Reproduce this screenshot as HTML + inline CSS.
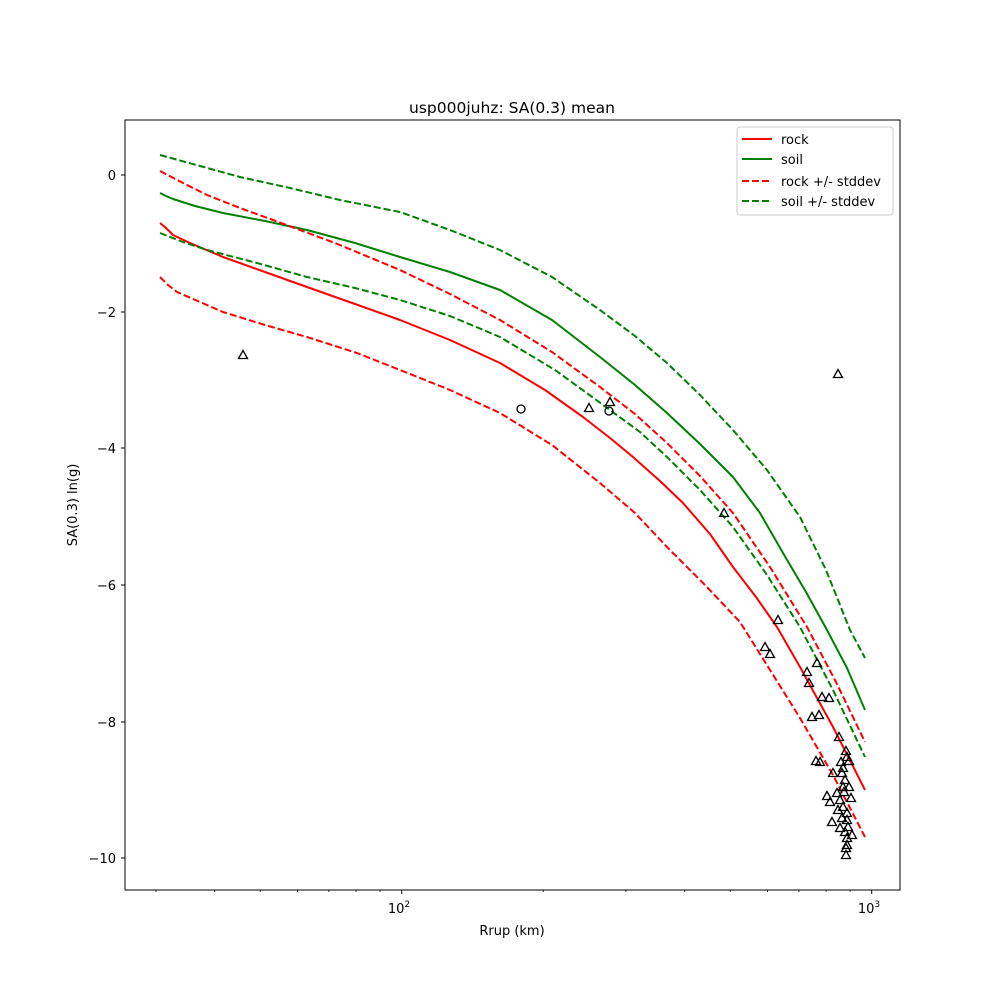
<!DOCTYPE html>
<html><head><meta charset="utf-8"><style>body{margin:0;background:#fff}svg{display:block;font-family:"DejaVu Sans","Liberation Sans",sans-serif}</style></head>
<body>
<svg width="1000" height="1000" viewBox="0 0 1000 1000">
<rect width="1000" height="1000" fill="#fff"/>
<g fill="none" stroke-width="2" stroke-linejoin="round">
<polyline stroke="#ff0000" points="160,223 166,228 173,235 190,243 223,257 265,272 307,287 355,304 400,320 450,340 500,363 545,390 583,417 610,438 633,457 660,481 683,503 710,534 733,567 756,597 777,627 800,667 833,727 865,790"/>
<polyline stroke="#008000" points="160,193 166,196 173,199 195,206 223,213 265,221 307,230 355,243 400,257 450,272 500,290 552,320 600,357 635,385 667,413 700,444 733,477 760,513 783,553 806,592 827,630 847,668 865,710"/>
<polyline stroke="#ff0000" stroke-dasharray="7,3" points="160,171 183,183 207,195 240,208 273,220 335,243 400,270 450,294 500,320 552,352 600,387 635,414 667,443 700,476 733,513 770,567 807,627 836,682 865,742"/>
<polyline stroke="#ff0000" stroke-dasharray="7,3" points="160,277 168,285 177,292 200,302 223,312 265,325 307,337 357,353 400,370 450,390 500,413 552,445 600,483 635,513 667,547 705,585 740,622 770,670 800,718 833,775 865,837"/>
<polyline stroke="#008000" stroke-dasharray="7,3" points="160,155 200,166 240,177 290,188 340,200 400,212 450,230 500,250 552,277 600,310 635,336 667,363 700,395 733,430 767,470 800,517 826,570 850,630 865,658"/>
<polyline stroke="#008000" stroke-dasharray="7,3" points="160,233 183,242 207,250 257,263 307,277 355,288 400,300 450,316 500,337 555,370 610,410 640,432 667,457 700,490 733,527 767,575 800,627 833,690 865,757"/>
</g>
<g fill="none" stroke="#000" stroke-width="1.3">
<circle cx="521" cy="409" r="4"/><circle cx="609" cy="411" r="4"/>
</g>
<defs><path id="t" d="M0,-4.5 L4.5,3.5 L-4.5,3.5 Z" fill="none" stroke="#000" stroke-width="1.3"/></defs>
<g>
<use href="#t" x="243" y="355"/><use href="#t" x="589" y="408"/><use href="#t" x="610" y="402"/><use href="#t" x="724" y="513"/>
<use href="#t" x="838" y="374"/><use href="#t" x="778" y="620"/><use href="#t" x="765" y="647"/><use href="#t" x="770" y="654"/>
<use href="#t" x="817" y="663"/><use href="#t" x="807" y="672"/><use href="#t" x="809" y="683"/><use href="#t" x="822" y="697"/>
<use href="#t" x="829" y="698"/><use href="#t" x="812" y="717"/><use href="#t" x="819" y="715"/><use href="#t" x="839" y="737"/>
<use href="#t" x="846" y="751"/><use href="#t" x="816" y="761"/><use href="#t" x="820" y="762"/><use href="#t" x="847" y="757"/>
<use href="#t" x="849" y="761"/><use href="#t" x="841" y="762"/><use href="#t" x="833" y="773"/><use href="#t" x="842" y="773"/>
<use href="#t" x="843" y="768"/><use href="#t" x="849" y="787"/><use href="#t" x="827" y="796"/><use href="#t" x="830" y="802"/>
<use href="#t" x="837" y="793"/><use href="#t" x="840" y="800"/><use href="#t" x="851" y="798"/><use href="#t" x="843" y="807"/>
<use href="#t" x="838" y="810"/><use href="#t" x="847" y="813"/><use href="#t" x="832" y="822"/><use href="#t" x="840" y="828"/>
<use href="#t" x="848" y="827"/><use href="#t" x="852" y="835"/><use href="#t" x="847" y="838"/><use href="#t" x="847" y="845"/>
<use href="#t" x="846" y="855"/><use href="#t" x="843" y="787"/><use href="#t" x="845" y="780"/><use href="#t" x="847" y="820"/>
<use href="#t" x="844" y="792"/><use href="#t" x="842" y="818"/><use href="#t" x="845" y="832"/><use href="#t" x="846" y="848"/>
</g>
<rect x="125" y="120" width="775" height="770" fill="none" stroke="#000" stroke-width="1"/>
<g stroke="#000" stroke-width="1">
<line x1="121" y1="175" x2="125" y2="175"/><line x1="121" y1="312" x2="125" y2="312"/><line x1="121" y1="448" x2="125" y2="448"/>
<line x1="121" y1="585" x2="125" y2="585"/><line x1="121" y1="722" x2="125" y2="722"/><line x1="121" y1="858" x2="125" y2="858"/>
<line x1="401.7" y1="890" x2="401.7" y2="894"/><line x1="871.7" y1="890" x2="871.7" y2="894"/>
<g stroke-width="0.8">
<line x1="155.9" y1="890" x2="155.9" y2="892"/><line x1="214.7" y1="890" x2="214.7" y2="892"/><line x1="260.2" y1="890" x2="260.2" y2="892"/>
<line x1="297.4" y1="890" x2="297.4" y2="892"/><line x1="328.9" y1="890" x2="328.9" y2="892"/><line x1="356.1" y1="890" x2="356.1" y2="892"/>
<line x1="380.1" y1="890" x2="380.1" y2="892"/><line x1="543.2" y1="890" x2="543.2" y2="892"/><line x1="625.9" y1="890" x2="625.9" y2="892"/>
<line x1="684.7" y1="890" x2="684.7" y2="892"/><line x1="730.2" y1="890" x2="730.2" y2="892"/><line x1="767.4" y1="890" x2="767.4" y2="892"/>
<line x1="798.9" y1="890" x2="798.9" y2="892"/><line x1="826.1" y1="890" x2="826.1" y2="892"/><line x1="850.1" y1="890" x2="850.1" y2="892"/>
</g></g>
<g font-size="13" fill="#000" text-anchor="end">
<text x="116" y="180">0</text><text x="116" y="317">−2</text><text x="116" y="453">−4</text>
<text x="116" y="590">−6</text><text x="116" y="727">−8</text><text x="116" y="863">−10</text>
</g>
<g font-size="13" text-anchor="middle">
<text x="399" y="913">10<tspan font-size="9" dy="-6">2</tspan></text>
<text x="869" y="913">10<tspan font-size="9" dy="-6">3</tspan></text>
<text x="512" y="935">Rrup (km)</text>
<text x="512" y="113" font-size="15.5">usp000juhz: SA(0.3) mean</text>
<text transform="translate(77,505) rotate(-90)">SA(0.3) ln(g)</text>
</g>
<rect x="737" y="127" width="156" height="88" rx="3" fill="#fff" stroke="#ccc"/>
<g stroke-width="2">
<line x1="742" y1="139" x2="772" y2="139" stroke="#ff0000"/>
<line x1="742" y1="159" x2="772" y2="159" stroke="#008000"/>
<line x1="742" y1="181" x2="772" y2="181" stroke="#ff0000" stroke-dasharray="7,3"/>
<line x1="742" y1="201" x2="772" y2="201" stroke="#008000" stroke-dasharray="7,3"/>
</g>
<g font-size="13">
<text x="781" y="144">rock</text><text x="781" y="164">soil</text>
<text x="781" y="186">rock +/- stddev</text><text x="781" y="206">soil +/- stddev</text>
</g>
</svg>
</body></html>
